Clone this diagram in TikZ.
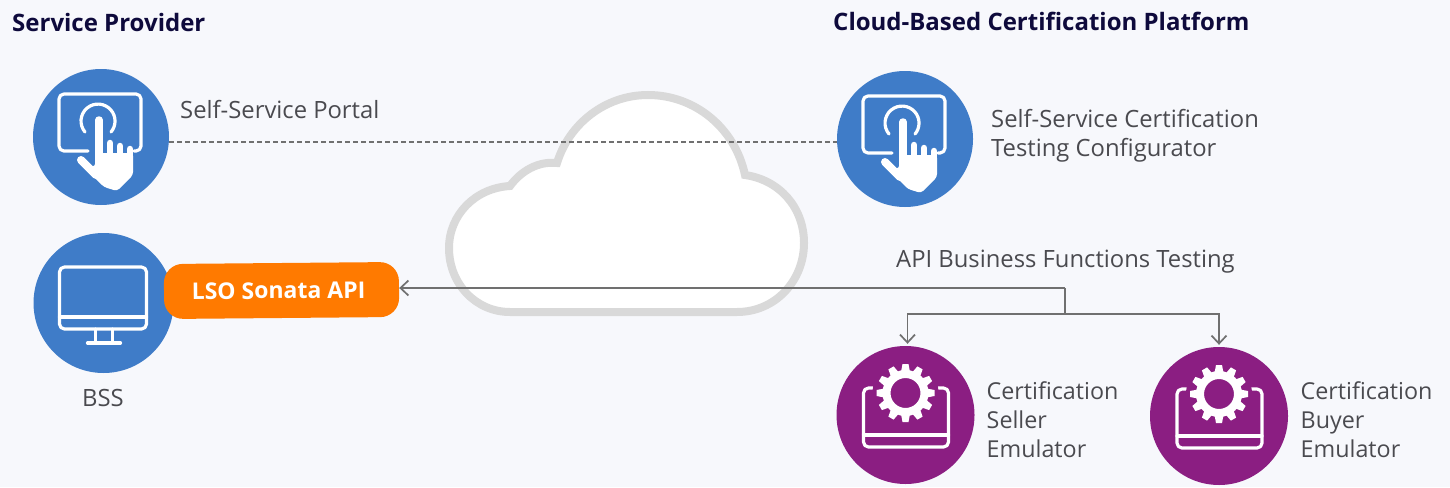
\documentclass[tikz,border=0pt]{standalone}
\usepackage{fontspec}
\setmainfont{Open Sans}
\usepackage{xcolor}
\usetikzlibrary{arrows.meta,positioning,calc}
\definecolor{pagebg}{HTML}{F7F8FC}
\definecolor{discblue}{HTML}{3F7CC8}
\definecolor{discpurple}{HTML}{8B1E82}
\definecolor{apiorange}{HTML}{FF7A00}
\definecolor{bodytext}{HTML}{4A4A4F}
\definecolor{headtext}{HTML}{0E0A3C}
\definecolor{cloudgray}{HTML}{D9D9D9}
\definecolor{linkgray}{HTML}{707070}
\tikzset{
  bluedisc/.style={circle,fill=discblue,minimum size=136pt,inner sep=0pt},
  purpledisc/.style={circle,fill=discpurple,minimum size=138pt,inner sep=0pt},
  heading/.style={anchor=west,inner sep=0pt,text=headtext,font=\fontsize{24}{28}\selectfont\bfseries},
  lbl/.style={anchor=west,inner sep=0pt,text=bodytext,align=left,font=\fontsize{23.8}{29}\selectfont},
  emulbl/.style={lbl,font=\fontsize{23.3}{29}\selectfont},
  apibox/.style={rectangle,rounded corners=19pt,fill=apiorange,text=white,minimum width=235pt,minimum height=55pt,inner sep=0pt,rotate=0.5,font=\fontsize{23}{26}\selectfont\bfseries},
  dashlink/.style={draw=linkgray,line width=1.5pt,dash pattern=on 5pt off 3pt},
  link/.style={draw=linkgray,line width=1.7pt},
  linkarrow/.style={link,-{Straight Barb[length=8pt,width=15pt,line width=1.7pt]}},
  iconline/.style={draw=white,line width=3.2pt,line cap=round,line join=round},
  pics/handicon/.style={code={
    \draw[iconline,rounded corners=5pt] (-13,14) -- (-42,14) -- (-42,-43) -- (40,-43) -- (40,14) -- (33,14);
    \draw[iconline] (-16,-5) arc[start angle=140,end angle=400,radius=17];
    \fill[white,rounded corners=3pt] (-6,16) -- (32,16) -- (32,38) -- (16,54) -- (3,50) -- (-22,25) -- (-6,30) -- cycle;
    \draw[white,line width=7.5pt,line cap=round] (-2,-17) -- (-2,30);
    \draw[white,line width=6.5pt,line cap=round] (9,6) -- (9,25);
    \draw[white,line width=6.5pt,line cap=round] (19,9) -- (19,25);
    \draw[white,line width=6.5pt,line cap=round] (29,12) -- (29,25);
    \draw[white,line width=8pt,line cap=round] (-20,23) -- (-5,38);
  }},
  pics/monitoricon/.style={code={
    \draw[iconline,rounded corners=5pt] (-44,-36) rectangle (43,26);
    \draw[iconline] (-44,14) -- (43,14);
    \draw[iconline] (-8,26) -- (-8,40);
    \draw[iconline] (9,26) -- (9,40);
    \draw[iconline] (-16,40) -- (17,40);
  }},
  pics/gearicon/.style={code={
    \draw[iconline,rounded corners=5pt] (-42,-27) rectangle (43,32);
    \draw[iconline] (-42,20) -- (43,20);
    \fill[discpurple] (0,-22) circle[radius=33];
    \draw[white,line width=8pt] (0,-22) circle[radius=19];
    \foreach \toothangle in {0,30,...,330}
      \fill[white,rotate around={\toothangle:(0,-22)}] (-4.5,-43) -- (-3,-51) -- (3,-51) -- (4.5,-43) -- cycle;
  }}
}
\begin{document}
\begin{tikzpicture}[x=1pt,y=-1pt]
    \useasboundingbox[fill=pagebg] (0,0) rectangle (1450,487);

    % cloud
    \filldraw[draw=cloudgray,fill=white,line width=8pt,line join=miter]
      (510,312) -- (737,312)
      .. controls (775,312) and (804,281) .. (804,243)
      .. controls (804,208) and (780,180) .. (745,175)
      .. controls (735,128) and (695,95) .. (648,95)
      .. controls (605,95) and (569,124) .. (557,163)
      .. controls (538,161) and (521,171) .. (510,186)
      .. controls (475,188) and (449,215) .. (449,248)
      .. controls (449,284) and (476,312) .. (510,312) -- cycle;

    \node[bluedisc] (portal) at (101,137) {};
    \node[bluedisc] (configurator) at (905,139) {};
    \node[bluedisc,minimum size=140pt] (bss) at (103.5,303) {};
    \node[purpledisc] (seller) at (905.5,415) {};
    \node[purpledisc] (buyer) at (1219,416) {};
    \pic at (portal) {handicon};
    \pic at (configurator) {handicon};
    \pic at (bss) {monitoricon};
    \pic at (seller) {gearicon};
    \pic at (buyer) {gearicon};

    \node[apibox] (api) at (281.5,290.5) {\hbox{LSO Sonata API\kern6pt}};

    \node[heading] (providerhead) at (12,23) {Service Provider};
    \node[heading] (platformhead) at (833,21.5) {Cloud-Based Certification Platform};
    \node[lbl] (portallbl) at (180,110) {Self-Service Portal};
    \node[lbl] (configlbl) at (991,135.5) {Self-Service Certification\\Testing Configurator};
    \node[lbl] (testlbl) at (896,262) {API Business Functions Testing};
    \node[lbl,anchor=center] (bsslbl) at (103,397.5) {BSS};
    \node[emulbl] (sellerlbl) at (986.5,419.5) {Certification\\Seller\\Emulator};
    \node[emulbl] (buyerlbl) at (1300.5,420) {Certification\\Buyer\\Emulator};

    \coordinate (apisplit) at (1065,288);
    \coordinate (emusplit) at (1065,314);

    \draw[dashlink] ([yshift=-4.8pt]portal.east) -- ([yshift=-2.8pt]configurator.west);
    \draw[linkarrow] (apisplit) -- (apisplit -| api.east);
    \draw[link] (apisplit) -- (emusplit);
    \draw[linkarrow,shorten >=2pt] (emusplit) -| ([xshift=2pt]seller.north);
    \draw[linkarrow,shorten >=2pt] (emusplit) -| (buyer.north);
\end{tikzpicture}
\end{document}
